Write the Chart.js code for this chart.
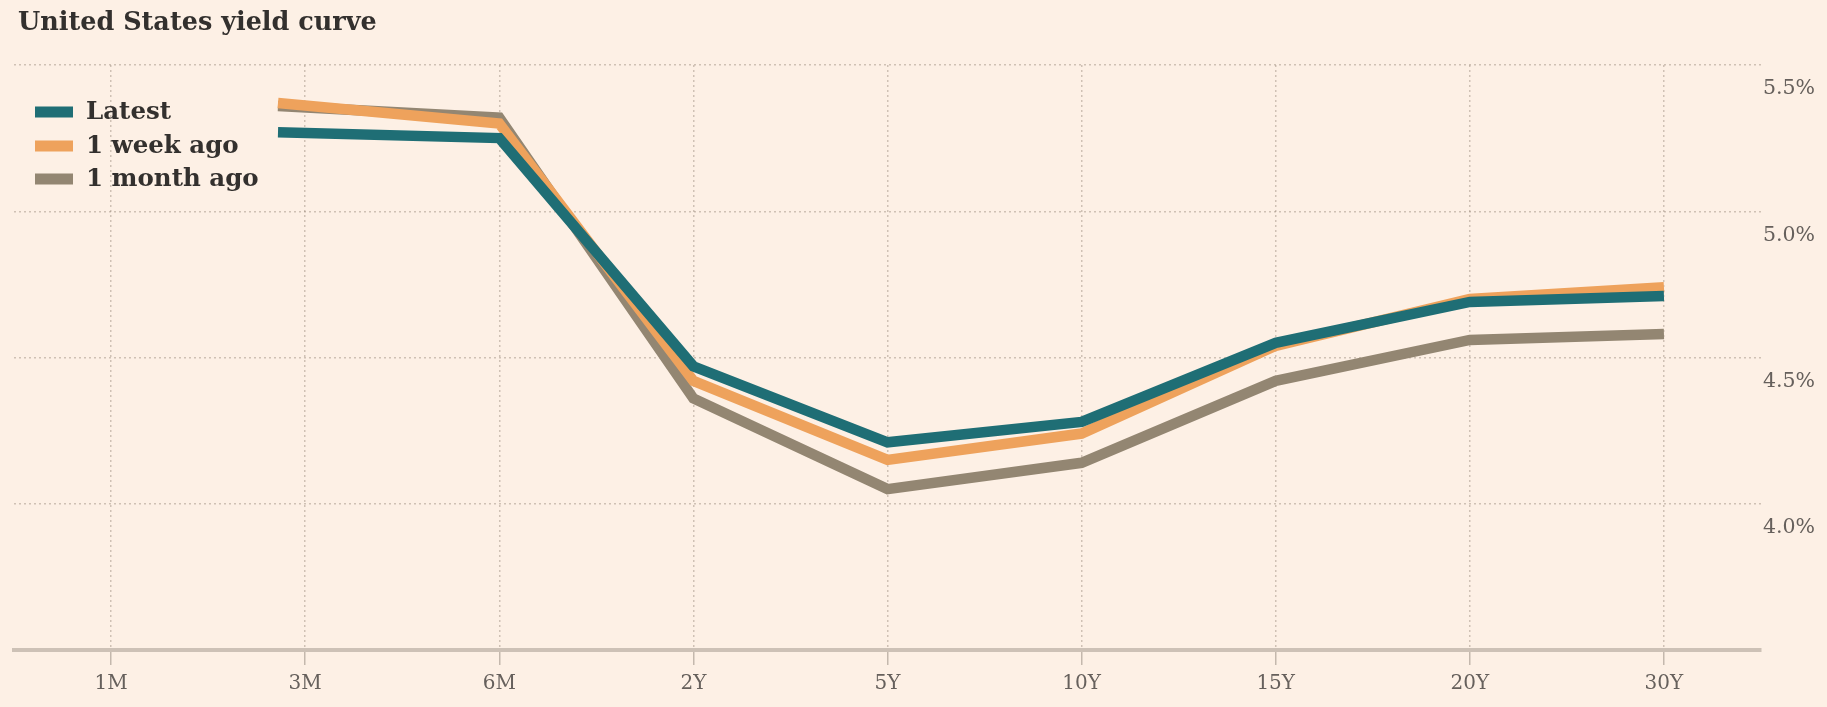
<!DOCTYPE html>
<html>
<head>
<meta charset="utf-8">
<title>United States yield curve</title>
<script src="https://cdn.jsdelivr.net/npm/chart.js@4.4.1/dist/chart.umd.min.js"></script>
<style>
  html, body { margin: 0; padding: 0; background: #fdf0e5; }
  #wrap { width: 1827px; height: 707px; }
  canvas { display: block; }
</style>
</head>
<body>
<div id="wrap"><canvas id="chart" width="1827" height="707"></canvas></div>
<script>
// Maturity axis labels (one per integer position on the x scale)
const maturities = ['1M', '3M', '6M', '2Y', '5Y', '10Y', '15Y', '20Y', '30Y'];
// Where each yield is plotted along the maturity axis; the curve begins just short of 3M
const curvePositions = [0.86, 2, 3, 4, 5, 6, 7, 8];

// Yields, %
const latest   = [5.27, 5.25, 4.47, 4.21, 4.28, 4.55, 4.69, 4.71];
const weekAgo  = [5.37, 5.30, 4.42, 4.15, 4.24, 4.54, 4.70, 4.74];
const monthAgo = [5.36, 5.32, 4.36, 4.05, 4.14, 4.42, 4.56, 4.58];

const seriesNames = ['Latest', '1 week ago', '1 month ago'];
const yTicks = [4.0, 4.5, 5.0, 5.5];

const titleText = 'United States yield curve';

const colors = {
  latest: '#1f6e75',
  week: '#eea25c',
  month: '#938672',
  text: '#33302e',
  axisText: '#66605c',
  grid: 'rgba(150, 135, 120, 0.45)',
  baseline: '#cdc1b6'
};

const toPoints = (vals) => vals.map((v, i) => ({ x: curvePositions[i], y: v }));

// Title and legend drawn onto the canvas in the top-left corner
const headerPlugin = {
  id: 'header',
  afterDraw(chart) {
    const ctx = chart.ctx;
    ctx.save();
    ctx.fillStyle = colors.text;
    ctx.font = 'bold 25.5px "DejaVu Serif"';
    ctx.textAlign = 'left';
    ctx.textBaseline = 'alphabetic';
    ctx.fillText(titleText, 18, 30);

    ctx.font = 'bold 24.5px "DejaVu Serif"';
    const rows = [112, 146, 179];
    chart.data.datasets.forEach((ds, i) => {
      ctx.fillStyle = ds.borderColor;
      ctx.fillRect(35, rows[i] - 5.5, 38, 11);
      ctx.fillStyle = colors.text;
      ctx.textBaseline = 'middle';
      ctx.fillText(ds.label, 86, rows[i] + 1);
    });
    ctx.restore();
  }
};

const bgPlugin = {
  id: 'bg',
  beforeDraw(chart) {
    const ctx = chart.ctx;
    ctx.save();
    ctx.fillStyle = '#fdf0e5';
    ctx.fillRect(0, 0, chart.width, chart.height);
    ctx.restore();
  }
};

const lineStyle = {
  borderWidth: 10.5,
  pointRadius: 0,
  pointHoverRadius: 0,
  borderJoinStyle: 'miter',
  borderCapStyle: 'butt',
  tension: 0,
  fill: false
};

new Chart(document.getElementById('chart'), {
  type: 'line',
  data: {
    datasets: [
      Object.assign({ label: seriesNames[0], data: toPoints(latest), borderColor: colors.latest, backgroundColor: colors.latest }, lineStyle),
      Object.assign({ label: seriesNames[1], data: toPoints(weekAgo), borderColor: colors.week, backgroundColor: colors.week }, lineStyle),
      Object.assign({ label: seriesNames[2], data: toPoints(monthAgo), borderColor: colors.month, backgroundColor: colors.month }, lineStyle)
    ]
  },
  options: {
    responsive: false,
    devicePixelRatio: 1,
    animation: false,
    events: [],
    layout: { padding: { left: 14, top: 65, right: 0, bottom: 0 } },
    plugins: {
      legend: { display: false },
      title: { display: false },
      tooltip: { enabled: false }
    },
    scales: {
      x: {
        type: 'linear',
        position: 'bottom',
        min: -0.5,
        max: maturities.length - 0.5,
        afterBuildTicks(scale) {
          scale.ticks = maturities.map((_, i) => ({ value: i }));
        },
        afterFit(scale) { scale.height = 57; },
        grid: {
          color: colors.grid,
          lineWidth: 1.5,
          drawTicks: true,
          tickLength: 15,
          tickColor: '#c4b8ad',
          tickWidth: 1.5,
          tickBorderDash: []
        },
        border: { display: true, color: colors.baseline, width: 4, dash: [2, 3] },
        ticks: {
          padding: 7,
          color: colors.axisText,
          font: { family: '"DejaVu Serif"', size: 20 },
          maxRotation: 0,
          autoSkip: false,
          callback: (v) => maturities[v] ?? ''
        }
      },
      y: {
        type: 'linear',
        position: 'right',
        min: 3.5,
        max: 5.5,
        afterBuildTicks(scale) {
          scale.ticks = yTicks.map((v) => ({ value: v }));
        },
        afterFit(scale) { scale.width = 66; },
        grid: {
          color: colors.grid,
          lineWidth: 1.5,
          drawTicks: false
        },
        border: { display: false, dash: [2, 3] },
        ticks: {
          padding: 2,
          labelOffset: 24,
          color: colors.axisText,
          font: { family: '"DejaVu Serif"', size: 20.5 },
          callback: (v) => v.toFixed(1) + '%'
        }
      }
    }
  },
  plugins: [bgPlugin, headerPlugin]
});
</script>
</body>
</html>
